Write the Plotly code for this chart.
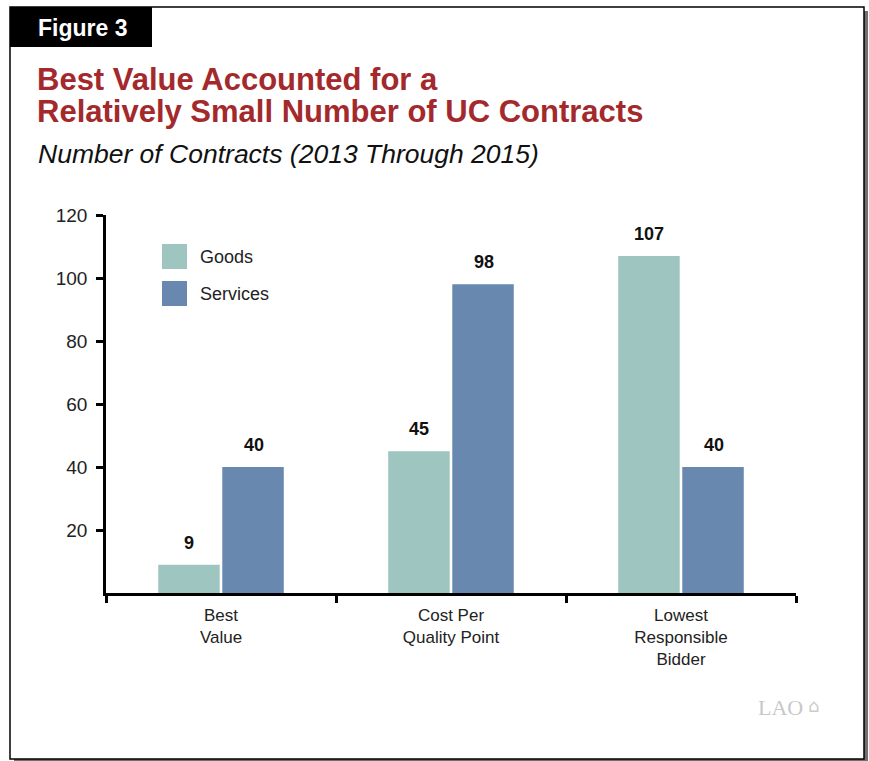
import plotly.graph_objects as go

categories = ["Best<br>Value", "Cost Per<br>Quality Point", "Lowest<br>Responsible<br>Bidder"]
goods = [9, 45, 107]
services = [40, 98, 40]
y_ticks = [20, 40, 60, 80, 100, 120]

GOODS_C = "#9fc5c0"
SERV_C = "#6888b0"
FONT = "Liberation Sans, Arial, Helvetica, sans-serif"

W, H = 869, 761
L, R, T, B = 106, 796, 215, 593


def px(x):
    return (x - L) / (R - L)


def py(y):
    return (B - y) / (B - T)


fig = go.Figure()
fig.add_trace(go.Bar(x=categories, y=goods, name="Goods", marker=dict(color=GOODS_C, line=dict(width=0)),
                     showlegend=False))
fig.add_trace(go.Bar(x=categories, y=services, name="Services", marker=dict(color=SERV_C, line=dict(width=0)),
                     showlegend=False))

shapes = []
shapes.append(dict(type="rect", xref="paper", yref="paper", x0=px(14), x1=px(868), y0=py(11), y1=py(763),
                   fillcolor="#707070", line=dict(width=0), layer="below"))
shapes.append(dict(type="rect", xref="paper", yref="paper", x0=px(10), x1=px(864), y0=py(7), y1=py(759),
                   fillcolor="white", line=dict(color="black", width=1.5), layer="below"))
shapes.append(dict(type="rect", xref="paper", yref="paper", x0=px(10), x1=px(152), y0=py(7), y1=py(47),
                   fillcolor="black", line=dict(width=0), layer="below"))
shapes.append(dict(type="rect", xref="paper", yref="paper", x0=px(162), x1=px(187), y0=py(244), y1=py(269),
                   fillcolor=GOODS_C, line=dict(width=0)))
shapes.append(dict(type="rect", xref="paper", yref="paper", x0=px(162), x1=px(187), y0=py(281), y1=py(306),
                   fillcolor=SERV_C, line=dict(width=0)))

ann = []
ann.append(dict(text="<b>Figure 3</b>", xref="paper", yref="paper", x=px(82), y=py(28), xanchor="center",
                yanchor="middle", showarrow=False, font=dict(family=FONT, size=23, color="white")))
for txt, yc in [("Best Value Accounted for a", 80), ("Relatively Small Number of UC Contracts", 111)]:
    ann.append(dict(text=f"<b>{txt}</b>", xref="paper", yref="paper", x=px(35), y=py(yc),
                    xanchor="left", yanchor="middle", showarrow=False,
                    font=dict(family=FONT, size=31, color="#a3292c")))
ann.append(dict(text="<i>Number of Contracts (2013 Through 2015)</i>", xref="paper", yref="paper",
                x=px(36), y=py(154), xanchor="left", yanchor="middle", showarrow=False,
                font=dict(family=FONT, size=26.5, color="#111")))
ann.append(dict(text="Goods", xref="paper", yref="paper", x=px(198), y=py(257), xanchor="left",
                yanchor="middle", showarrow=False, font=dict(family=FONT, size=18, color="#222")))
ann.append(dict(text="Services", xref="paper", yref="paper", x=px(198), y=py(294), xanchor="left",
                yanchor="middle", showarrow=False, font=dict(family=FONT, size=18, color="#222")))
ann.append(dict(text="LAO", xref="paper", yref="paper", x=px(756), y=py(707), xanchor="left",
                yanchor="middle", showarrow=False,
                font=dict(family="Liberation Serif, Times New Roman, serif", size=22, color="#c8c8c8")))
ann.append(dict(text="⌂", xref="paper", yref="paper", x=px(806), y=py(705), xanchor="left",
                yanchor="middle", showarrow=False,
                font=dict(family="DejaVu Sans, sans-serif", size=18, color="#cccccc")))

for cat, g, s in zip(categories, goods, services):
    ann.append(dict(text=f"<b>{g}</b>", x=cat, y=g, xref="x", yref="y", xshift=-32.5, yshift=10,
                    yanchor="bottom", showarrow=False, font=dict(family=FONT, size=18, color="#111")))
    ann.append(dict(text=f"<b>{s}</b>", x=cat, y=s, xref="x", yref="y", xshift=32.5, yshift=10,
                    yanchor="bottom", showarrow=False, font=dict(family=FONT, size=18, color="#111")))

fig.update_layout(
    width=W, height=H,
    margin=dict(l=L, r=W - R, t=T, b=H - B, pad=0),
    paper_bgcolor="white", plot_bgcolor="rgba(0,0,0,0)",
    barmode="group", bargap=0.443, bargroupgap=0.04,
    shapes=shapes, annotations=ann,
    font=dict(family=FONT),
)
fig.update_xaxes(
    range=[-0.5, 2.5], showline=True, linecolor="black", linewidth=2.5, ticks="outside",
    tickson="boundaries", ticklen=7, tickwidth=2.5, tickcolor="black", showgrid=False,
    tickfont=dict(family=FONT, size=17, color="#222"), ticklabelstandoff=5, fixedrange=True,
)
fig.update_yaxes(
    range=[0, 120], tickvals=y_ticks, showline=True, linecolor="black", linewidth=2.5, ticks="outside",
    ticklen=7, tickwidth=2.5, tickcolor="black", showgrid=False, zeroline=False,
    tickfont=dict(family=FONT, size=19, color="#222"), ticklabelstandoff=5,
)

fig.write_html("out.html", config={"displayModeBar": False})
